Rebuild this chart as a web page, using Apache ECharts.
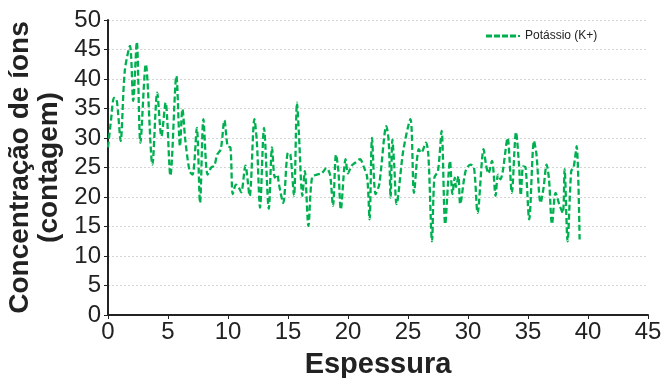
<!DOCTYPE html>
<html>
<head>
<meta charset="utf-8">
<script src="https://cdn.jsdelivr.net/npm/echarts@6/dist/echarts.min.js"></script>
<style>
  html, body { margin: 0; padding: 0; background: #fff; }
  #main { width: 662px; height: 378px; }
</style>
</head>
<body>
<div id="main"></div>
<script>
// espessura (x) e contagem de K+ (y)
var espessura = [
  0.0, 0.25, 0.5, 0.7, 0.85, 1.05, 1.4, 1.83, 2.1, 2.4, 2.7, 3.15, 3.7, 4.1, 4.45, 4.8, 5.2, 5.7, 6.0, 6.2, 6.45, 6.8,
  7.05, 7.4, 7.67, 7.95, 8.3, 8.6, 8.86, 9.1, 9.4, 9.7, 9.97, 10.2, 10.4, 10.67, 10.9, 11.1, 11.45, 11.8, 12.2, 12.4, 12.67, 13.0, 13.4,
  13.67, 13.9, 14.1, 14.25, 14.6, 15.0, 15.2, 15.5, 15.75, 15.9, 16.2, 16.4, 16.7, 17.0, 17.4, 17.8, 18.2, 18.5, 18.75, 19.0, 19.2, 19.4, 19.8, 20.0,
  20.3, 20.6, 21.0, 21.3, 21.6, 21.8, 22.0, 22.3, 22.6, 23.2, 23.4, 23.55, 23.7, 23.85, 24.05, 24.6, 25.2, 25.5, 25.9, 26.1, 26.5, 26.7, 27.0,
  27.2, 27.5, 27.8, 28.1, 28.5, 28.7, 28.9, 29.0, 29.2, 29.35, 29.8, 30.2, 30.5, 30.8, 31.3, 31.5, 31.7, 32.0, 32.3, 32.5, 32.7, 32.9, 33.3, 33.65, 34.0,
  34.25, 34.4, 34.6, 34.8, 35.1, 35.5, 35.7, 36.05, 36.3, 36.55, 36.75, 37.0, 37.3, 37.6, 37.9, 38.05, 38.3, 38.6, 38.8, 39.05, 39.3
];
var potassio = [
  28.4, 33, 36.8, 36.6, 34, 29.5, 41.4, 45.6, 36.3, 46.3, 29.2, 42.5, 25.5, 37.7, 30.3, 36, 23.6, 40.5, 28.6, 34.9, 29.5, 24.4,
  23.8, 31.7, 19.0, 33.2, 23.8, 25, 25.3, 27.2, 28.1, 33, 28.6, 28.4, 20.5, 22.1, 21.6, 20.8, 25.3, 20.2, 33.2, 29.5, 18.2, 31.7, 18.0,
  28.4, 23.3, 23.8, 22.1, 19.0, 27.5, 27.2, 20.2, 36.0, 31.1, 20.2, 24.4, 15.1, 23.3, 23.8, 24.0, 24.9, 23.8, 18.5, 27.2, 24.4, 17.9, 26.4, 24.0,
  25.3, 25.8, 26.4, 25.2, 23.3, 16.2, 30.0, 20.5, 22.1, 32.0, 29.2, 19.9, 29.7, 25.5, 18.8, 27.8, 33.2, 20.7, 28.1, 27.5, 29.2, 27.0, 12.5,
  23.3, 24.4, 31.2, 15.4, 26.1, 20.5, 23.3, 21.7, 23.5, 18.8, 24.4, 25.5, 25.0, 17.3, 28.1, 25.5, 24.0, 26.1, 20.2, 23.8, 23.0, 24.4, 30.0, 20.7, 31.0,
  25.5, 20.3, 25.2, 25.0, 16.2, 29.5, 27.3, 19.0, 21.6, 25.5, 23.0, 15.4, 20.7, 18.8, 17.3, 24.7, 12.5, 24.4, 25.0, 28.6, 12.8
];
var xTicks = { min: 0, max: 45, interval: 5 };
var yTicks = { min: 0, max: 50, interval: 5 };

var chart = echarts.init(document.getElementById('main'));
var tickFont = "'Liberation Sans', Arial, sans-serif";
var titleFont = "'Liberation Sans', Arial, sans-serif";
var green = '#00b050';

chart.setOption({
  animation: false,
  grid: { left: 108, right: 14, top: 20, bottom: 63, outerBoundsMode: 'none', containLabel: false },
  legend: {
    left: 481,
    top: 25,
    itemWidth: 34,
    itemHeight: 3,
    itemGap: 4,
    textStyle: { color: '#222', fontSize: 12, fontFamily: titleFont },
    data: [{
      name: 'Potássio (K+)',
      icon: 'path://M0,0h6v3h-6z M8,0h6v3h-6z M16,0h6v3h-6z M24,0h6v3h-6z M32,0.5h2v2h-2z',
      itemStyle: { color: green }
    }]
  },
  xAxis: {
    type: 'value',
    min: xTicks.min, max: xTicks.max, interval: xTicks.interval,
    name: 'Espessura',
    nameLocation: 'middle',
    nameGap: 35,
    nameTextStyle: { color: '#222', fontSize: 29, fontWeight: 'bold', fontFamily: titleFont },
    axisLine: { lineStyle: { color: '#222', width: 2 } },
    axisTick: { show: true, length: 4, lineStyle: { color: '#222', width: 1 } },
    axisLabel: { color: '#222', fontSize: 24, margin: 5, fontFamily: tickFont },
    splitLine: { show: false }
  },
  yAxis: {
    type: 'value',
    min: yTicks.min, max: yTicks.max, interval: yTicks.interval,
    name: 'Concentração de íons\n(contagem)',
    nameLocation: 'middle',
    nameGap: 34,
    nameTextStyle: { color: '#222', fontSize: 28, fontWeight: 'bold', lineHeight: 29, fontFamily: titleFont },
    axisLine: { show: true, lineStyle: { color: '#222', width: 2 } },
    axisTick: { show: true, length: 4, lineStyle: { color: '#222', width: 1 } },
    axisLabel: { color: '#222', fontSize: 24, margin: 7, fontFamily: tickFont },
    splitLine: { show: true, lineStyle: { color: '#d4d4d4', type: [2, 2], width: 1 } }
  },
  series: [{
    name: 'Potássio (K+)',
    type: 'line',
    smooth: 0.3,
    symbol: 'none',
    lineStyle: { color: green, width: 2.3, type: [6, 3] },
    itemStyle: { color: green },
    data: espessura.map(function (x, i) { return [x, potassio[i]]; })
  }]
});
</script>
</body>
</html>
